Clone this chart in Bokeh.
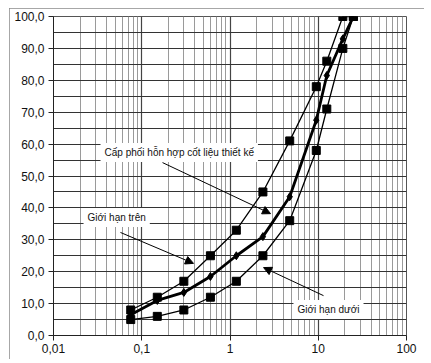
from bokeh.plotting import figure
from bokeh.models import (FixedTicker, Label, Arrow, NormalHead, Range1d)
from bokeh.embed import file_html
from bokeh.resources import INLINE

# sieve sizes (mm) and passing percentages
sieve = [0.075, 0.15, 0.3, 0.6, 1.18, 2.36, 4.75, 9.5, 12.5, 19, 25]
upper = [8, 12, 17, 25, 33, 45, 61, 78, 86, 100, 100]
design = [6.5, 11, 13.5, 18.5, 25, 31, 43.5, 67.5, 81.5, 93, 100]
lower = [5, 6, 8, 12, 17, 25, 36, 58, 71, 90, 100]

x_ticks = [0.01, 0.1, 1, 10, 100]
x_labels = ["0,01", "0,1", "1", "10", "100"]
y_ticks = [0, 10, 20, 30, 40, 50, 60, 70, 80, 90, 100]
y_labels = ["0,0", "10,0", "20,0", "30,0", "40,0", "50,0", "60,0", "70,0", "80,0", "90,0", "100,0"]

label_design = "Cấp phối hỗn hợp cốt liệu thiết kế"
label_upper = "Giới hạn trên"
label_lower = "Giới hạn dưới"

FONT = "Liberation Sans"
W, H = 415, 351

p = figure(width=W, height=H, x_axis_type="log",
           x_range=Range1d(0.01, 100), y_range=Range1d(0, 100),
           output_backend="svg", toolbar_location=None,
           min_border_left=44, min_border_right=18, min_border_top=8, min_border_bottom=24)
p.margin = (8, 0, 0, 9)
p.styles = {"outline": "1px solid #8a8a8a", "outline-offset": "-1px"}
p.outline_line_color = "#555555"
p.background_fill_color = "white"
p.border_fill_color = "white"

minor_x = [m * 10.0 ** e for e in range(-2, 2) for m in range(2, 10)]
p.xaxis.ticker = FixedTicker(ticks=x_ticks, minor_ticks=minor_x)
p.xaxis.major_label_overrides = {t: l for t, l in zip(x_ticks, x_labels)}
p.yaxis.ticker = FixedTicker(ticks=y_ticks, minor_ticks=[5, 15, 25, 35, 45, 55, 65, 75, 85, 95])
p.yaxis.major_label_overrides = {t: l for t, l in zip(y_ticks, y_labels)}

for ax in (p.xaxis, p.yaxis):
    ax.major_label_text_font = FONT
    ax.major_label_text_font_size = "12px"
    ax.major_label_text_color = "#111111"
    ax.axis_line_color = "#222222"
    ax.major_tick_line_color = "#222222"
    ax.major_tick_in = 0
    ax.major_tick_out = 5
    ax.minor_tick_line_color = None
p.xaxis.major_label_standoff = 3
p.yaxis.major_label_standoff = 4

p.xgrid.grid_line_color = "#444444"
p.xgrid.grid_line_width = 1.2
p.xgrid.minor_grid_line_color = "#9a9a9a"
p.xgrid.minor_grid_line_width = 1
p.ygrid.grid_line_color = "#333333"
p.ygrid.minor_grid_line_color = "#333333"
p.ygrid.grid_line_width = 1
p.ygrid.minor_grid_line_width = 1

# curves
p.line(sieve, upper, line_color="black", line_width=1.3)
p.scatter(sieve, upper, marker="square", size=8, color="black")
p.line(sieve, lower, line_color="black", line_width=1.3)
p.scatter(sieve, lower, marker="square", size=8, color="black")
p.line(sieve, design, line_color="black", line_width=2.8)
p.scatter(sieve, design, marker="diamond", size=8, color="black")

# arrows
for xs, ys, xe, ye in [(0.172, 54.2, 2.88, 38.2),
                       (0.0574, 32.3, 0.386, 22.6),
                       (11.47, 12.5, 2.40, 21.3)]:
    p.add_layout(Arrow(end=NormalHead(size=8, fill_color="black", line_color="black"),
                       x_start=xs, y_start=ys, x_end=xe, y_end=ye,
                       line_color="black", line_width=1))

# labels with white boxes
for txt, x, y in [(label_design, 0.0341, 57.4),
                  (label_upper, 0.0219, 37.0),
                  (label_lower, 5.24, 8.15)]:
    p.add_layout(Label(x=x, y=y, text=txt, text_font=FONT, text_font_size="10px",
                       text_baseline="middle", text_align="left", text_color="#111111",
                       background_fill_color="white", padding=4))

open("out.html", "w").write(file_html(p, INLINE))
